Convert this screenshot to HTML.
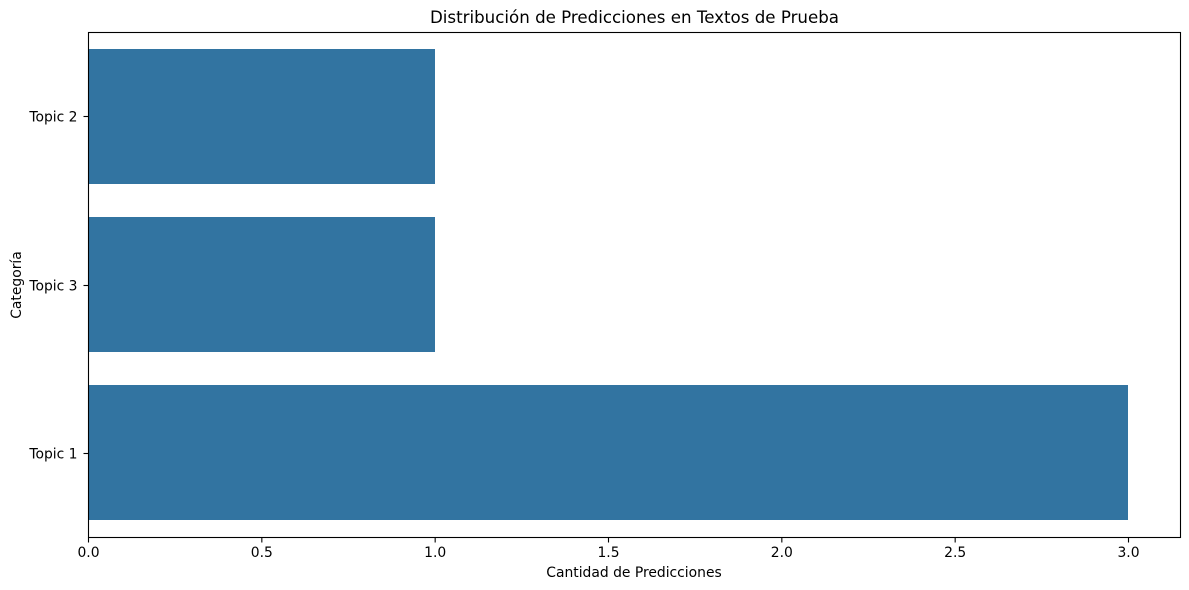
<!DOCTYPE html>
<html>
<head>
<meta charset="utf-8">
<style>
html,body{margin:0;padding:0;background:#fff;width:1189px;height:590px;overflow:hidden}
svg{display:block}
text{font-family:"DejaVu Sans","Liberation Sans",sans-serif;fill:#000}
</style>
</head>
<body>
<svg id="chart" width="1189" height="590" viewBox="0 0 1189 590" xmlns="http://www.w3.org/2000/svg"></svg>
<script>
const categories = ['Topic 2', 'Topic 3', 'Topic 1'];
const counts = [1, 1, 3];
const xTickValues = [0, 0.5, 1, 1.5, 2, 2.5, 3];
const xTickLabels = ['0.0', '0.5', '1.0', '1.5', '2.0', '2.5', '3.0'];
const titleText = 'Distribución de Predicciones en Textos de Prueba';
const xTitleText = 'Cantidad de Predicciones';
const yTitleText = 'Categoría';

const svg = document.getElementById('chart');
const NS = 'http://www.w3.org/2000/svg';
const plotLeft = 88.5, plotRight = 1180.5, plotTop = 32.5, plotBottom = 537.5;
const xMax = Math.max(...counts) * 1.05;
const bandHeight = (plotBottom - plotTop) / categories.length;
const barFraction = 0.8;

function xScale(v) {
  return plotLeft + (v / xMax) * (plotRight - plotLeft);
}
function yScale(i) {
  return plotTop + (i + 0.5) * bandHeight;
}
function make(tag, attrs, text) {
  const el = document.createElementNS(NS, tag);
  for (const k in attrs) el.setAttribute(k, attrs[k]);
  if (text !== undefined) el.textContent = text;
  svg.appendChild(el);
  return el;
}

categories.forEach((cat, i) => {
  const h = bandHeight * barFraction;
  const left = Math.floor(xScale(0));
  const bar = make('rect', {
    x: left,
    y: Math.round(yScale(i) - h / 2 - 0.6),
    width: Math.floor(xScale(counts[i])) - left,
    height: Math.round(h),
    fill: '#3274a1',
    'shape-rendering': 'crispEdges'
  });
  
  

  const tickY = Math.floor(yScale(i)) + 0.5;
  const tick = make('line', { x1: plotLeft - 5, x2: plotLeft, y1: tickY, y2: tickY, stroke: '#000', 'stroke-width': 1.1 });
  
  

  const label = make('text', { x: 77.5, y: tickY + 5, 'text-anchor': 'end', 'font-size': 13.89 }, cat);
  
  
});

xTickValues.forEach((v, i) => {
  const x = xScale(v);
  const tick = make('line', { x1: x, x2: x, y1: plotBottom, y2: plotBottom + 5, stroke: '#000', 'stroke-width': 1.1 });
  
  

  const label = make('text', { x: x, y: 557, 'text-anchor': 'middle', 'font-size': 13.89 }, xTickLabels[i]);
  
  
});

const frame = make('rect', {
  x: plotLeft, y: plotTop,
  width: plotRight - plotLeft, height: plotBottom - plotTop,
  fill: 'none', stroke: '#000', 'stroke-width': 1.1
});



const title = make('text', { x: 634.5, y: 23, 'text-anchor': 'middle', 'font-size': 16.67 }, titleText);



const xTitle = make('text', { x: 634, y: 577, 'text-anchor': 'middle', 'font-size': 13.89 }, xTitleText);



const yTitle = make('text', { x: 0, y: 0, 'text-anchor': 'middle', 'font-size': 13.89, transform: 'translate(21 285) rotate(-90)' }, yTitleText);


</script>
</body>
</html>
